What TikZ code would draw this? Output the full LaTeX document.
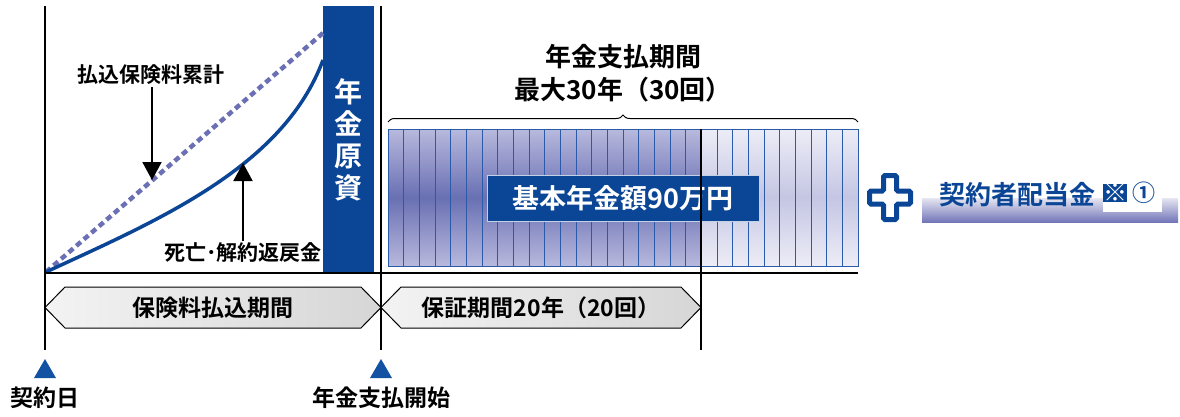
\documentclass[tikz,border=0pt]{standalone}
\usepackage{fontspec}
\setmainfont{Noto Sans CJK JP}[BoldFont={Noto Sans CJK JP Bold}]
\usetikzlibrary{arrows.meta,positioning,calc,decorations.pathreplacing}
\definecolor{navy}{HTML}{0B4596}
\definecolor{dashblue}{HTML}{6B70B5}
\definecolor{bardark}{HTML}{6970B3}
\definecolor{barlight}{HTML}{B8B9DD}
\definecolor{barpale}{HTML}{EDEDF7}
\definecolor{barmid}{HTML}{C4C6E3}
\definecolor{barline}{HTML}{2B5BA8}
\definecolor{bandtop}{HTML}{E6E6F1}
\definecolor{bandbottom}{HTML}{7276B8}
\definecolor{hexleft}{HTML}{F3F3F3}
\definecolor{hexright}{HTML}{D6D6D6}
\definecolor{marker}{HTML}{1351A3}
\newcommand{\jpsize}[1]{\fontsize{#1}{#1}\selectfont}

\begin{document}
\begin{tikzpicture}[x=1pt,y=-1pt]

  \tikzstyle{every node}=[font=\bfseries, inner sep=0pt]

  \tikzset{timeline/.style={line width=1.2pt},
    myptr/.style={line width=2pt,-{Triangle[width=19pt,length=18pt]}},
    darkbar/.style={top color=barlight, bottom color=barlight, middle color=bardark, draw=barline, line width=0.8pt},
    palebar/.style={top color=barpale, bottom color=barpale, middle color=barmid, draw=barline, line width=0.8pt},
    period/.style={left color=hexleft, right color=hexright, draw=black, line width=1pt}}

  \useasboundingbox (0,0) rectangle (1180,416);

  % Points in time on the axis
  \coordinate (contract day) at (45,273);
  \coordinate (payout start) at (381,273);
  \coordinate (guarantee end) at (701,273);
  \coordinate (payout end) at (858,273);

  % Payout bars, 30 years
  \coordinate (bars nw) at (388,129);
  \foreach \i in {0,...,19}
    \shadedraw[darkbar] ($(bars nw)+(\i*15.67,0)$) rectangle ++(15.67,137);
  \foreach \i in {20,...,29}
    \shadedraw[palebar] ($(bars nw)+(\i*15.67,0)$) rectangle ++(15.67,137);

  % Brace and header over the bars
  \draw[decorate, decoration={brace, amplitude=7pt}, line width=1pt]
    ($(bars nw)+(0,-7)$) -- ($(payout end)+(0,-151)$);
  \node[align=center, font=\bfseries\fontsize{26}{33}\selectfont] (payout period) at (623,73.5) {年金支払期間\\最大30年（30回）};

  % Basic pension amount
  \node[fill=navy, draw=white!75!navy, line width=1pt, minimum width=272, minimum height=46,
    text=white, font=\bfseries\jpsize{27}] (base pension) at (623,198) {基本年金額90万円};

  % Pension fund band
  \node[fill=navy, minimum width=51, minimum height=267, text=white, align=center,
    font=\bfseries\fontsize{28}{32}\selectfont] (pension fund) at (348.5,139.5) {年\\金\\原\\資};

  % Curves up to the fund
  \coordinate (origin) at ($(contract day)+(1,-1)$);
  \coordinate (premium top) at (323,33);
  \coordinate (refund top) at (323,60);
  \draw[dashblue, line width=4.5pt, dash pattern=on 6pt off 4pt] (origin) -- (premium top);
  \draw[navy, line width=3.5pt] (origin) .. controls (156,221) and (283,168) .. (refund top);

  % Labels with arrows
  \coordinate (premium hit) at (152,180);
  \coordinate (refund hit) at (243,163);
  \node[font=\bfseries\jpsize{21}] (premium label) at (151,75) {払込保険料累計};
  \node[font=\bfseries\jpsize{21}] (refund label) at (243,253) {死亡･解約返戻金};
  \draw[myptr, shorten <=2pt] (premium label.south -| premium hit) -- (premium hit);
  \draw[myptr, shorten <=2pt] (refund label.north -| refund hit) -- (refund hit);

  % Periods below the axis
  \shadedraw[period] ($(contract day)+(0,34.5)$) -- ($(contract day)+(20,14)$) -- ($(payout start)+(-20,14)$)
    -- ($(payout start)+(0,34.5)$) -- ($(payout start)+(-20,55)$) -- ($(contract day)+(20,55)$) -- cycle;
  \shadedraw[period] ($(payout start)+(0,34.5)$) -- ($(payout start)+(20,14)$) -- ($(guarantee end)+(-20,14)$)
    -- ($(guarantee end)+(0,34.5)$) -- ($(guarantee end)+(-20,55)$) -- ($(payout start)+(20,55)$) -- cycle;
  \node[font=\bfseries\jpsize{23}] (premium period) at ($(contract day)!0.5!(payout start)+(0,34.5)$) {保険料払込期間};
  \node[font=\bfseries\jpsize{23}] (guarantee period) at ($(payout start)!0.5!(guarantee end)+(0,34.5)$) {保証期間20年（20回）};

  % Timelines
  \draw[timeline] (contract day) -- (payout end);
  \draw[timeline] ($(contract day)+(0,-267)$) -- ($(contract day)+(0,77)$);
  \draw[timeline] ($(payout start)+(0,-267)$) -- ($(payout start)+(0,77)$);
  \draw[timeline] ($(guarantee end)+(0,-144)$) -- ($(guarantee end)+(0,77)$);

  % Markers
  \fill[marker] ($(contract day)+(0,86)$) -- ++(11,19) -- ++(-22,0) -- cycle;
  \fill[marker] ($(payout start)+(0,86)$) -- ++(11,19) -- ++(-22,0) -- cycle;
  \node[font=\bfseries\jpsize{23}] (contract label) at ($(contract day)+(0,125)$) {契約日};
  \node[font=\bfseries\jpsize{23}] (start label) at ($(payout start)+(0,125)$) {年金支払開始};

  % Plus dividend
  \coordinate (plus) at (890,197.5);
  \draw[navy, fill=white, line width=5pt, rounded corners=1.5pt] ($(plus)+(-6.5,-22)$) -- ++(13,0) -- ++(0,15.5)
    -- ++(14,0) -- ++(0,13) -- ++(-14,0) -- ++(0,15.5) -- ++(-13,0) -- ++(0,-15.5) -- ++(-14,0) -- ++(0,-13)
    -- ++(14,0) -- cycle;
  \shade[top color=bandtop, bottom color=bandbottom] (922,198) rectangle (1178,222);
  \fill[white] (1103,186) rectangle (1162,212);
  \node[text=navy, font=\bfseries\jpsize{26}] (dividend) at (1017,195) {契約者配当金};
  \node[fill=navy, minimum width=18, minimum height=17, text=white, font=\bfseries\jpsize{24}] (note mark) at (1115,193) {※};
  \node[text=navy, font=\bfseries\jpsize{23}, right=5 of note mark] (note number) {①};

\end{tikzpicture}
\end{document}
